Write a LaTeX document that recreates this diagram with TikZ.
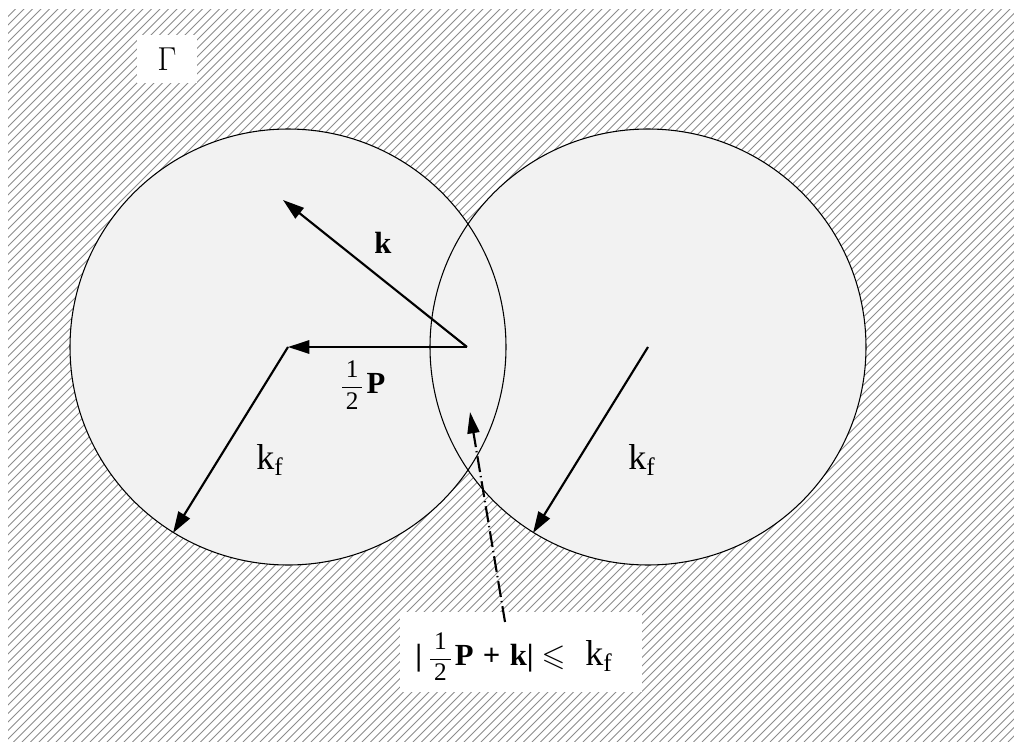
\documentclass[tikz,border=0pt]{standalone}
\usepackage{amsmath,amssymb}
\usepackage{fontspec}
\setmainfont{Liberation Serif}
\usepackage{tikz}
\usetikzlibrary{arrows.meta, positioning, calc}

\newcommand{\halfsym}{{\fontsize{19}{21}\selectfont$\dfrac{\,\mathrm{1}\,}{\,\mathrm{2}\,}$}}

\begin{document}
\begin{tikzpicture}[
    x=0.75pt, y=-0.75pt,
    hatch/.style={draw=black!45, line width=0.6pt},
    vec/.style={-{Triangle[length=16pt, width=10pt]}, line width=1.6pt},
    hint/.style={-{Triangle[length=16pt, width=9pt]}, line width=1.6pt,
        dash pattern=on 12pt off 3pt on 1pt off 3pt},
    lbl/.style={font=\fontsize{23}{27}\selectfont, inner sep=0pt},
    biglbl/.style={font=\fontsize{27}{31}\selectfont, inner sep=0pt},
    whitebox/.style={fill=white, inner sep=0pt}
]
\useasboundingbox (0,0) rectangle (1014,742);

% Hatched background
\begin{scope}
    \clip (8,10) rectangle (1014,742);
    \foreach \i in {-760,-751.5,...,1020}
        \draw[hatch] (\i,742) -- ++(800,-800);
\end{scope}

% Centres and rim points
\coordinate (cL) at (288,347);
\coordinate (cR) at (648,347);
\coordinate (orig) at (467,347);
\coordinate (ktip) at (283,200);
\coordinate (rimL) at (173,533);
\coordinate (rimR) at (533,533);
\coordinate (lens) at (470,412);

% Fermi spheres
\fill[black!5] (cL) circle (218);
\fill[black!5] (cR) circle (218);
\draw[line width=0.8pt] (cL) circle (218);
\draw[line width=0.8pt] (cR) circle (218);

% Labels in white boxes
\node[whitebox, biglbl, minimum width=45pt, minimum height=36pt] (gamma) at (167,59) {$\Gamma$};
\node[whitebox, minimum width=182pt, minimum height=60pt] (cond) at (521,652) {};
\node[lbl, anchor=base west] (condtxt) at (415,665)
    {\textbf{|}\hspace{5pt}\halfsym\hspace{2pt}\textbf{P\hspace{7pt}+\hspace{7pt}k|}\hspace{6pt}$\leqslant$\hspace{15pt}{\fontsize{27}{31}\selectfont k$_{\mathrm{f}}$}};
\coordinate (dstart) at (505,622);

% Vectors
\draw[vec] (orig) -- (ktip);
\draw[vec] (orig) -- (cL);
\draw[vec] (cL) -- (rimL);
\draw[vec] (cR) -- (rimR);
\draw[hint] (dstart) -- (lens);

% Vector labels
\node[lbl] (klbl) at (383,243) {\textbf{k}};
\node[lbl] (plbl) at (363,385) {\halfsym\hspace{2pt}\textbf{P}};
\node[biglbl] (kfL) at (270,460) {k$_{\mathrm{f}}$};
\node[biglbl] (kfR) at (642,460) {k$_{\mathrm{f}}$};

\end{tikzpicture}
\end{document}
